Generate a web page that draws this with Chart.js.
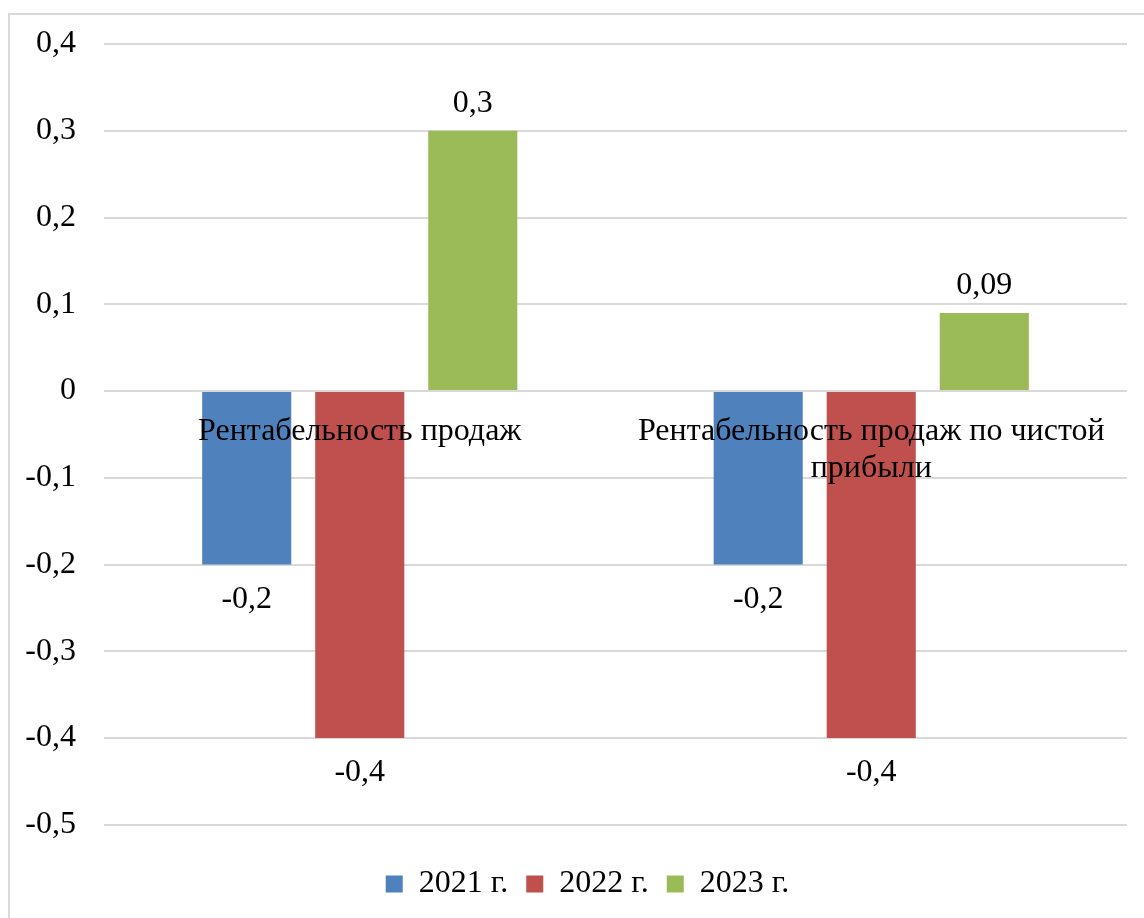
<!DOCTYPE html>
<html>
<head>
<meta charset="utf-8">
<script src="https://cdn.jsdelivr.net/npm/chart.js@4"></script>
<style>
  html, body { margin: 0; padding: 0; background: #fff; }
  canvas { display: block; }
</style>
</head>
<body>
<canvas id="chart" width="1144" height="918"></canvas>
<script>
// categories and series
const categories = ['Рентабельность продаж', ['Рентабельность продаж по чистой', 'прибыли']];
const seriesNames = ['2021 г.', '2022 г.', '2023 г.'];
const values2021 = [-0.2, -0.2];
const values2022 = [-0.4, -0.4];
const values2023 = [0.3, 0.09];
const colors = ['#4F81BD', '#C0504D', '#9BBB59'];

const serif = '"Liberation Serif", "Times New Roman", serif';

function fmt(v) {
    return String(v).replace('.', ',');
}

// light gray frame around the chart
const framePlugin = {
    id: 'frame',
    beforeDraw(chart) {
        const ctx = chart.ctx;
        ctx.save();
        ctx.strokeStyle = '#d9d9d9';
        ctx.lineWidth = 2;
        ctx.strokeRect(9, 14, 1200, 1000);
        ctx.restore();
    }
};

// legend sits a bit right of the centre in the original
const legendShift = {
    id: 'legendShift',
    afterLayout(chart) {
        chart.legend.left += 24;
        chart.legend.right += 24;
    }
};

// value labels above / below each bar
const valueLabels = {
    id: 'valueLabels',
    afterDatasetsDraw(chart) {
        const ctx = chart.ctx;
        ctx.save();
        ctx.font = '32px ' + serif;
        ctx.fillStyle = '#000';
        ctx.textAlign = 'center';
        ctx.textBaseline = 'middle';
        chart.data.datasets.forEach((ds, i) => {
            chart.getDatasetMeta(i).data.forEach((bar, j) => {
                const v = ds.data[j];
                const y = v >= 0 ? bar.y - 27 : bar.y + 35;
                ctx.fillText(fmt(v), bar.x, y);
            });
        });
        ctx.restore();
    }
};

const allValues = [values2021, values2022, values2023];

new Chart(document.getElementById('chart'), {
    type: 'bar',
    data: {
        labels: categories,
        datasets: seriesNames.map((name, i) => ({
            label: name,
            data: allValues[i],
            backgroundColor: colors[i],
            borderWidth: 0,
            categoryPercentage: 0.663,
            barPercentage: 0.788
        }))
    },
    options: {
        responsive: false,
        animation: false,
        layout: { padding: { left: 0, right: 17, top: 44, bottom: 8 } },
        scales: {
            x: {
                position: { y: 0 },
                grid: { display: false },
                border: { display: false },
                ticks: {
                    z: 1,
                    color: '#000',
                    font: { family: serif, size: 32, lineHeight: 1.15 },
                    padding: 14,
                    maxRotation: 0,
                    autoSkip: false
                }
            },
            y: {
                min: -0.5,
                max: 0.4,
                grid: { color: '#d9d9d9', lineWidth: 2, tickLength: 14, tickColor: 'rgba(0,0,0,0)' },
                border: { display: false },
                ticks: {
                    stepSize: 0.1,
                    color: '#000',
                    padding: 14,
                    font: { family: serif, size: 32 },
                    callback: v => {
                        const r = Math.round(v * 10) / 10;
                        return r === 0 ? '0' : fmt(r);
                    }
                },
                afterFit(scale) { scale.width = 104; }
            }
        },
        plugins: {
            legend: {
                position: 'bottom',
                title: { display: true, text: '', font: { size: 1 }, padding: { top: 24, bottom: 0 } },
                labels: {
                    color: '#000',
                    boxWidth: 17,
                    boxHeight: 17,
                    padding: 18,
                    font: { family: serif, size: 32 }
                }
            },
            tooltip: { enabled: false }
        }
    },
    plugins: [framePlugin, legendShift, valueLabels]
});
</script>
</body>
</html>
